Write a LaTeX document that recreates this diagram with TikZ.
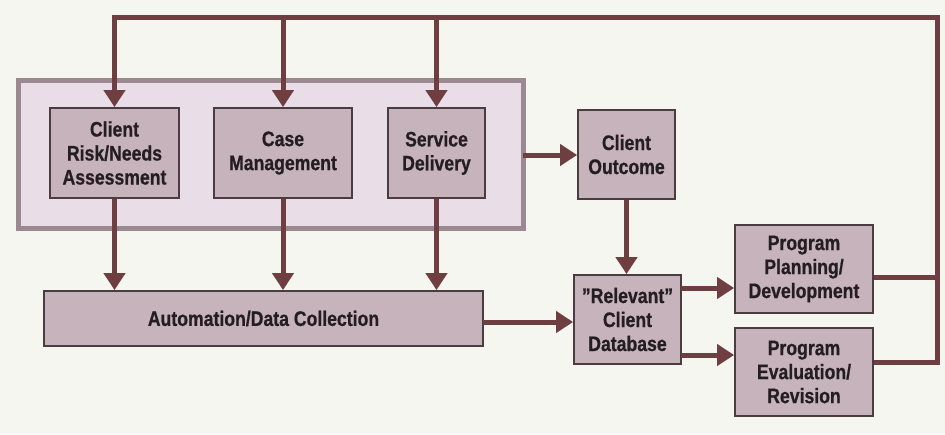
\documentclass[tikz,border=0pt]{standalone}
\usepackage{fontspec}
\setmainfont{Liberation Sans}[FakeStretch=0.84, BoldFeatures={FakeBold=0.7}]
\usetikzlibrary{arrows.meta}
\definecolor{paper}{HTML}{F6F6F1}
\definecolor{grpfill}{HTML}{E9DEE7}
\definecolor{grpline}{HTML}{9C8890}
\definecolor{boxfill}{HTML}{C7B3BC}
\definecolor{boxline}{HTML}{4A3C40}
\definecolor{flow}{HTML}{6E3E40}
\definecolor{ink}{HTML}{241E21}
\tikzset{
  stepbox/.style={draw=boxline, line width=1.8pt, fill=boxfill, rectangle,
    align=center, text=ink, font=\bfseries\fontsize{21}{24}\selectfont, inner sep=0pt},
  flowline/.style={draw=flow, line width=5pt, line join=miter},
  flowarrow/.style={flowline, -{Triangle[width=21pt,length=17pt]}},
}
\begin{document}
\begin{tikzpicture}[x=1pt,y=1pt]
\useasboundingbox (0,0) rectangle (945,-434);
\fill[paper] (0,0) rectangle (945,-434);

% service group
\node[draw=grpline, line width=5pt, fill=grpfill, minimum width=505pt, minimum height=148pt, inner sep=0pt]
  (grp) at (270.5,-154) {};

\node[stepbox, minimum width=129pt, minimum height=90pt] (risk) at (114.5,-153) {Client\\Risk/Needs\\Assessment};
\node[stepbox, minimum width=138pt, minimum height=90pt] (case) at (283,-153) {Case\\Management};
\node[stepbox, minimum width=97pt, minimum height=90pt] (serv) at (436.5,-153) {Service\\Delivery};
\node[stepbox, minimum width=97pt, minimum height=89pt] (outc) at (626.5,-154.5) {Client\\Outcome};
\node[stepbox, minimum width=439pt, minimum height=55pt] (auto) at (263.5,-318.5) {Automation/Data Collection};
\node[stepbox, minimum width=107pt, minimum height=89pt] (db) at (627.5,-319.5) {\symbol{34}Relevant\symbol{34}\\Client\\Database};
\node[stepbox, minimum width=138pt, minimum height=88pt] (plan) at (804,-269) {Program\\Planning/\\Development};
\node[stepbox, minimum width=138pt, minimum height=88pt] (eval) at (804,-372) {Program\\Evaluation/\\Revision};

% feedback loop
\coordinate (tr) at (937,-17);
\coordinate (planout) at (937,-277);
\coordinate (evalout) at (937,-362);
\draw[flowline] (plan.east |- planout) -- (planout);
\draw[flowarrow] (eval.east |- evalout) -- (evalout) -- (tr) -| (risk.north);
\draw[flowarrow] (case.north |- tr) -- (case.north);
\draw[flowarrow] (serv.north |- tr) -- (serv.north);

% into data collection
\draw[flowarrow] (risk.south) -- (risk.south |- auto.north);
\draw[flowarrow] (case.south) -- (case.south |- auto.north);
\draw[flowarrow] (serv.south) -- (serv.south |- auto.north);

% outcome and database
\coordinate (so) at (523,-155);
\draw[flowarrow] (so) -- (so -| outc.west);
\draw[flowarrow] (outc.south) -- (outc.south |- db.north);
\coordinate (ad) at (483,-322);
\draw[flowarrow] (ad) -- (ad -| db.west);
\coordinate (dp) at (681,-288);
\coordinate (de) at (681,-355);
\draw[flowarrow] (dp) -- (dp -| plan.west);
\draw[flowarrow] (de) -- (de -| eval.west);
\end{tikzpicture}
\end{document}
